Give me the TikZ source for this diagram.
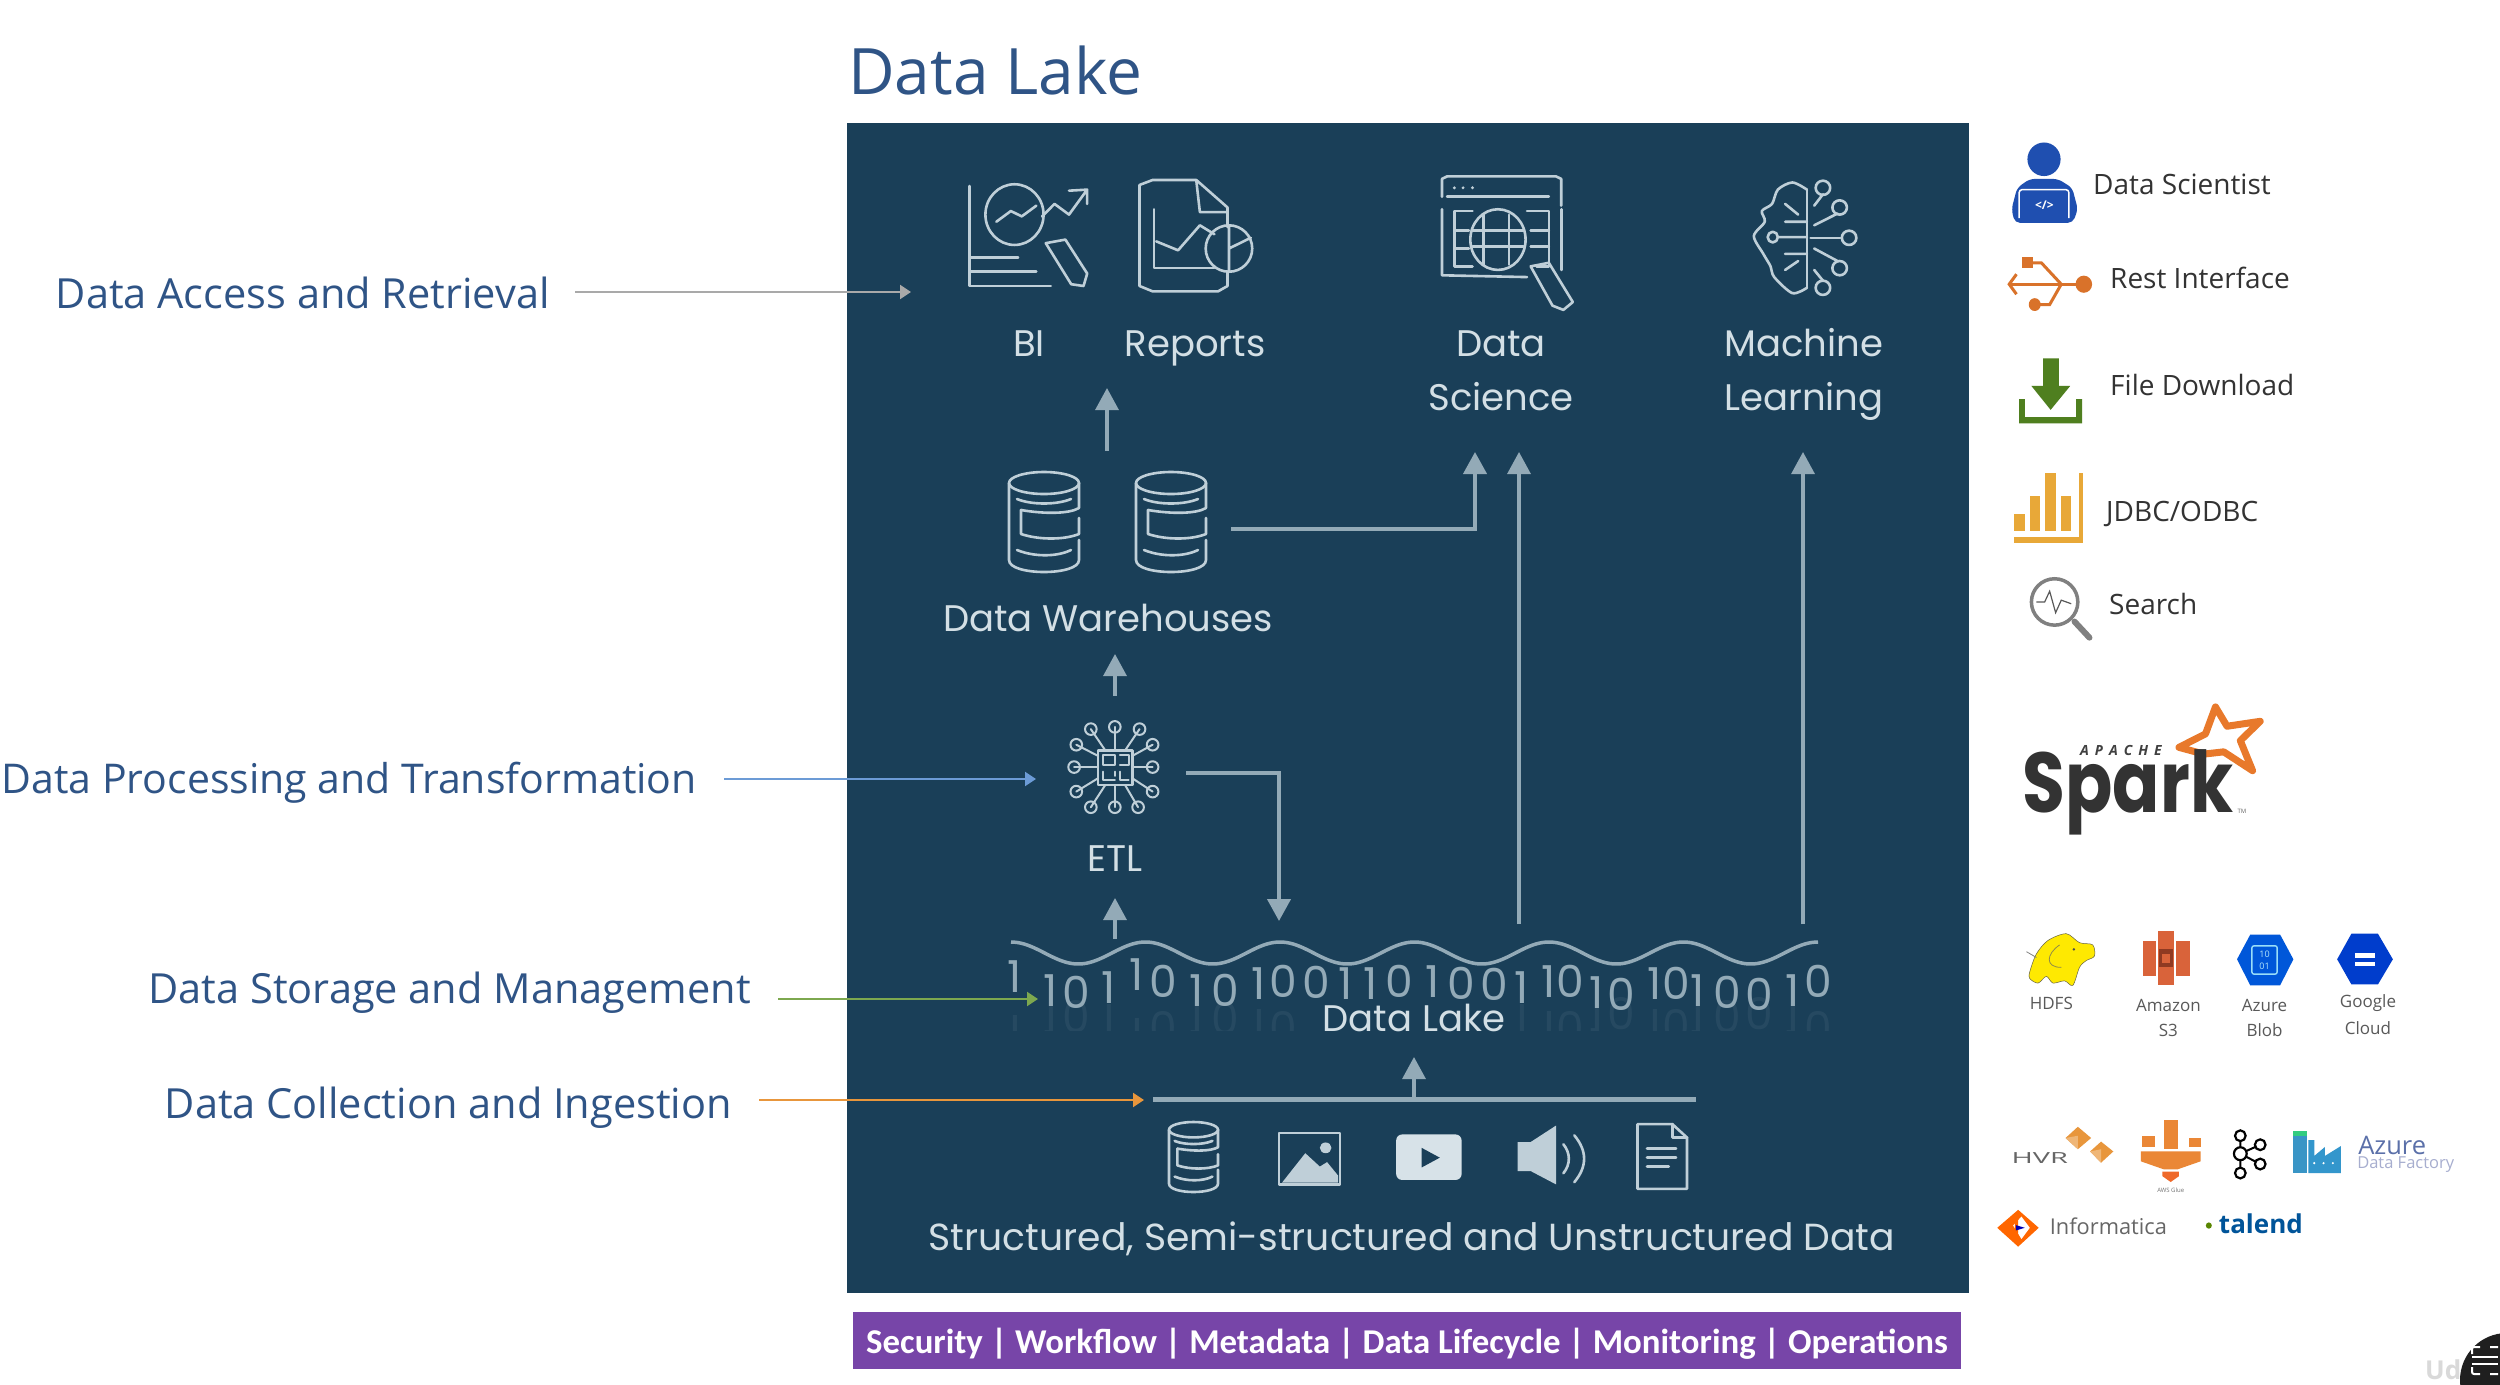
\documentclass[tikz,border=0pt]{standalone}
\usepackage{fontspec}
\usetikzlibrary{arrows.meta}
\setmainfont{Open Sans}
\newfontfamily\dmf{Poppins}
\newfontfamily\carf{Carlito}
\newcommand\fsz[1]{\fontsize{#1}{#1}\selectfont}
\definecolor{panel}{HTML}{1A3F58}
\definecolor{pale}{HTML}{D3DFE5}
\definecolor{iconc}{HTML}{BFCFD8}
\definecolor{arrowc}{HTML}{93AAB7}
\definecolor{titleblue}{HTML}{2F5486}
\definecolor{purplebar}{HTML}{7745A8}
\definecolor{orangel}{HTML}{E8963C}
\definecolor{greenl}{HTML}{7DA84F}
\definecolor{bluel}{HTML}{6C9BD6}
\definecolor{grayl}{HTML}{A9A9A9}
\definecolor{usb}{HTML}{D9722A}
\definecolor{dl}{HTML}{4F7F1F}
\definecolor{jd}{HTML}{E8A838}
\definecolor{pers}{HTML}{1F4FB0}
\definecolor{sparko}{HTML}{E8792B}
\definecolor{sthreec}{HTML}{D9633A}
\definecolor{sthreed}{HTML}{8F3A22}
\tikzset{
  zoomA/.style={x=.727pt,y=-.357pt,xshift=840pt,yshift=-120pt},
  zoomB/.style={x=.727pt,y=-.4464pt,xshift=840pt,yshift=-680pt},
  zoomC/.style={x=.3316pt,y=-.357pt,xshift=1980pt,yshift=-120pt},
  zoomD/.style={x=.3316pt,y=-.449pt,xshift=1980pt,yshift=-680pt},
  iconline/.style={draw=iconc,line width=2.6pt,line join=round,line cap=round},
  paneltext/.style={inner sep=0pt,text=pale,font=\dmf\fsz{37},anchor=base},
  lefttext/.style={inner sep=0pt,text=titleblue,font=\fsz{41.5},anchor=east},
  sidetext/.style={inner sep=0pt,text=black!80,font=\fsz{28},anchor=west},
  smalltext/.style={inner sep=0pt,text=black!65,font=\fsz{17}},
  panelarrow/.style={draw=arrowc,line width=3.2pt,-{Triangle[length=22pt,width=23pt,fill=arrowc]}},
  leftarrow/.style={line width=2.2pt,-{Triangle[length=11pt,width=14pt]}},
  digit/.style={inner sep=0pt,text=arrowc,font=\dmf\fsz{44}},
}
\newcommand\dbicon[3]{% x,y = top-left, #3 = unit scale
\begin{scope}[shift={(#1,#2)},x=#3pt,y=-1.0*#3pt]
\draw[iconline] (35,11) ellipse [x radius=35,y radius=11];
\draw[iconline] (0,11)--(0,88) .. controls (0,104) and (70,104) .. (70,88)--(70,68);
\draw[iconline] (70,11)--(70,36) .. controls (60,42) and (35,42) .. (12,38);
\draw[iconline] (8,27) .. controls (22,33) and (48,33) .. (62,27);
\draw[iconline] (12,38)--(12,62) .. controls (30,68) and (55,68) .. (70,62)--(70,46);
\draw[iconline] (8,78) .. controls (25,85) and (48,85) .. (62,78);
\end{scope}}
\begin{document}
\begin{tikzpicture}[x=1pt,y=-1pt]
\useasboundingbox (0,0) rectangle (2500,1384);
\fill[white] (0,0) rectangle (2500,1384);
% title and panel
\node[inner sep=0pt,anchor=west,text=titleblue,font=\fsz{64}] (title) at (848,70) {Data Lake};
\fill[panel] (847,123) rectangle (1969,1293);
\fill[purplebar] (853,1312) rectangle (1961,1369);
\node[inner sep=0pt,text=white,font=\carf\bfseries\fsz{34.8}] (bar) at (1407,1344) {Security | Workflow | Metadata | Data Lifecycle | Monitoring | Operations};
% left labels
\node[lefttext] (access) at (550,293) {Data Access and Retrieval};
\node[lefttext,font=\fsz{41}] (proc) at (697,783) {Data Processing and Transformation};
\node[lefttext] (store) at (751,993) {Data Storage and Management};
\node[lefttext] (collect) at (732,1108) {Data Collection and Ingestion};
\coordinate (accessTip) at (911,292);
\coordinate (procTip) at (1036,779);
\coordinate (storeTip) at (1038,999);
\coordinate (collectTip) at (1144,1100);
\draw[leftarrow,grayl] ([xshift=25pt,yshift=1pt]access.east) -- (accessTip);
\draw[leftarrow,bluel] ([xshift=27pt,yshift=4pt]proc.east) -- (procTip);
\draw[leftarrow,greenl] ([xshift=27pt,yshift=-6pt]store.east) -- (storeTip);
\draw[leftarrow,orangel] ([xshift=27pt,yshift=8pt]collect.east) -- (collectTip);
% panel labels
\node[paneltext] (bi) at (1029,356) {BI};
\node[paneltext] (reports) at (1195,356) {Reports};
\node[paneltext] (ds1) at (1501,356) {Data};
\node[paneltext] (ds2) at (1501,410) {Science};
\node[paneltext] (ml1) at (1804,356) {Machine};
\node[paneltext] (ml2) at (1804,410) {Learning};
\node[paneltext] (dw) at (1108,631) {Data Warehouses};
\node[paneltext] (etl) at (1115,871) {ETL};
\node[paneltext,font=\dmf\fsz{37.7}] (srcs) at (1412,1250) {Structured, Semi-structured and Unstructured Data};
% connectors
\coordinate (dwTop) at (1107,451); \coordinate (repBase) at (1107,388);
\coordinate (dwEast) at (1231,529); \coordinate (dsA) at (1475,452);
\coordinate (lakeA) at (1519,924); \coordinate (dsB) at (1519,452);
\coordinate (lakeB) at (1803,924); \coordinate (mlB) at (1803,452);
\coordinate (etlTop) at (1115,696); \coordinate (dwBase) at (1115,654);
\coordinate (etlEast) at (1186,773); \coordinate (lakeC) at (1279,921);
\coordinate (lakeUp) at (1115,939); \coordinate (etlBase) at (1115,898);
\coordinate (srcL) at (1153,1099); \coordinate (srcR) at (1696,1099);
\coordinate (srcM) at (1414,1099); \coordinate (lakeBase) at (1414,1057);
\draw[panelarrow] (dwTop) -- (repBase);
\draw[panelarrow,line width=4pt] (dwEast) -| (dsA);
\draw[panelarrow] (lakeA) -- (dsB);
\draw[panelarrow] (lakeB) -- (mlB);
\draw[panelarrow] (etlTop) -- (dwBase);
\draw[panelarrow,line width=4pt] (etlEast) -| (lakeC);
\draw[panelarrow] (lakeUp) -- (etlBase);
\draw[draw=arrowc,line width=5pt] (srcL) -- (srcR);
\draw[panelarrow] (srcM) -- (lakeBase);
% wave
\draw[draw=arrowc,line width=3.5pt] plot[domain=1011:1818,samples=160,smooth] (\x,{953-11*cos(2.6766*(\x-1011))});
% binary digits
\begin{scope}
\clip (847,985) rectangle (1969,1030);
\foreach \d/\zx/\zy in {1/240/665,1/290/695,0/325/700,1/370/690,1/408/660,0/445/675,1/490/695,0/530/695,1/575/680,0/610/675,1/937/690,1/975/675,0/1005/675,1/1040/700,0/1075/705,1/1120/680,0/1150/680,1/1180/695,0/1220/700,0/1265/705,1/1310/695,0/1345/675}{
  \ifnum\zx<620
    \node[digit,opacity=.10,yscale=-1] at ({840+\zx*.727},{1014+(705-\zy)*.4464}) {\d};
  \else
    \node[digit,opacity=.10,yscale=-1] at ({840+\zx*.727},{1014+(705-\zy)*.4464}) {\d};
  \fi
}
\end{scope}
\foreach \d/\zx/\zy in {1/240/665,1/290/695,0/325/700,1/370/690,1/408/660,0/445/675,1/490/695,0/530/695,1/575/680,0/610/675,0/655/678,1/695/680,1/730/680,0/770/675,1/815/675,0/855/680,0/900/682,1/937/690,1/975/675,0/1005/675,1/1040/700,0/1075/705,1/1120/680,0/1150/680,1/1180/695,0/1220/700,0/1265/705,1/1310/695,0/1345/675}{
  \node[digit] at ({840+\zx*.727},{680+\zy*.4464}) {\d};
}
\node[paneltext] (dlake) at (1414,1031) {Data Lake};
% BI icon
\begin{scope}[zoomA]
\draw[iconline] (178,185)--(178,465)--(290,465);
\draw[iconline] (178,385)--(245,385) (178,425)--(270,425);
\draw[iconline] (240,265) ellipse [x radius=40,y radius=85];
\draw[iconline] (215,285)--(235,255)--(250,270)--(270,240);
\draw[iconline] (278,270)--(295,235)--(315,265)--(340,195) (315,198)--(340,195)--(340,235);
\draw[iconline] (283,345)--(310,335)--(340,430)--(335,465)--(318,460)--cycle;
% Reports icon
\draw[iconline] (490,168)--(430,168)--(412,182)--(412,465)--(430,480)--(520,480)--(533,465)--(533,425);
\draw[iconline] (490,168)--(533,245)--(533,300) (490,168)--(495,258)--(533,258);
\draw[iconline] (432,250)--(432,415)--(515,415);
\draw[iconline] (435,340)--(465,365)--(495,295)--(515,320);
\draw[iconline] (535,360) ellipse [x radius=32,y radius=65];
\draw[iconline] (535,295)--(535,425) (535,360)--(565,330);
% Data science icon
\draw[iconline] (828,215)--(828,165)--(835,158)--(985,158)--(992,165)--(992,240);
\draw[iconline] (835,215)--(975,215);
\foreach \dx in {845,857,870} \fill[iconc] (\dx,190) circle (1.6pt);
\draw[iconline] (828,250)--(828,435)--(945,440);
\draw[iconline] (992,250)--(992,420);
\draw[iconline] (905,335) ellipse [x radius=38,y radius=85];
\draw[iconline] (885,265)--(885,405) (920,265)--(920,405) (870,310)--(940,310) (870,355)--(940,355);
\draw[iconline] (870,255)--(845,255)--(845,410)--(870,410) (845,310)--(865,310) (845,360)--(865,360);
\draw[iconline] (945,255)--(975,255)--(975,410)--(958,410) (950,310)--(975,310) (950,355)--(975,355);
\draw[iconline] (950,410)--(975,400)--(1008,510)--(995,532)--(980,520)--cycle;
% Brain icon
\draw[iconline] plot[smooth] coordinates {(1330,195)(1310,175)(1290,195)(1282,235)(1268,255)(1272,285)(1257,325)(1270,375)(1280,410)(1285,440)(1310,485)(1330,470)};
\draw[iconline] (1330,195)--(1330,470);
\draw[iconline] (1283,328) ellipse [x radius=7,y radius=15];
\draw[iconline] (1292,328)--(1330,328) (1300,285)--(1330,285) (1300,375)--(1330,375) (1300,235)--(1318,265) (1300,420)--(1318,395);
\foreach \cx/\cy/\lx/\ly/\ex/\ey in {1352/190/1352/208/1340/240,1375/245/1372/262/1340/295,1388/330/1376/330/1335/330,1375/415/1372/395/1340/360,1352/470/1352/450/1340/420}{
  \draw[iconline] (\cx,\cy) ellipse [x radius=10,y radius=20];
  \draw[iconline] (\lx,\ly)--(\ex,\ey);
}
\end{scope}
% warehouses and source database
\dbicon{1009}{472}{1.0}
\dbicon{1136}{472}{1.0}
\dbicon{1169}{1122}{0.70}
% ETL icon
\begin{scope}[zoomB]
\draw[iconline] (355,158) rectangle (402,235);
\draw[iconline,line width=2pt] (362,168)--(362,190)--(378,190)--(378,168)--cycle (385,168)--(397,168)--(397,190)--(385,190) (362,205)--(362,225)--(378,225) (385,205)--(385,225)--(397,225) (378,205)--(378,215);
\foreach \cx/\cy/\tx/\ty in {345/110/365/158,378/105/378/158,412/110/392/158,325/145/355/170,322/195/355/195,325/250/355/220,430/145/402/170,430/195/402/195,430/250/402/220,345/285/365/235,378/285/378/235,410/285/392/235}{
  \draw[iconline,line width=2pt] (\cx,\cy) ellipse [x radius=8,y radius=13];
  \draw[iconline,line width=2pt] (\cx,\cy)--(\tx,\ty);
}
% source icons
\draw[iconline] (604,1015) rectangle (688,1130);
\fill[iconc] (608,1126)--(640,1060)--(660,1090)--(670,1080)--(685,1110)--(685,1126)--cycle;
\fill[iconc] (668,1048) ellipse [x radius=8,y radius=12];
\fill[pale!90!white,rounded corners=6pt] (765,1018) rectangle (855,1120);
\fill[panel] (800,1048)--(800,1092)--(825,1070)--cycle;
\fill[iconc] (932,1035)--(950,1035)--(985,998)--(985,1130)--(950,1100)--(932,1100)--cycle;
\draw[iconline] (995,1040) .. controls (1005,1060) and (1005,1085) .. (995,1105);
\draw[iconline] (1010,1020) .. controls (1028,1055) and (1028,1090) .. (1010,1125);
\draw[iconline] (1097,995)--(1145,995)--(1165,1025)--(1165,1140)--(1097,1140)--cycle;
\draw[iconline] (1145,995)--(1145,1025)--(1165,1025);
\draw[iconline] (1110,1050)--(1150,1050) (1110,1070)--(1150,1070) (1110,1090)--(1140,1090);
\end{scope}
% side legend
\node[sidetext] (scientist) at (2093,184) {Data Scientist};
\node[sidetext] (rest) at (2110,278) {Rest Interface};
\node[sidetext] (fdl) at (2110,385) {File Download};
\node[sidetext] (jdbc) at (2106,514) {JDBC/ODBC};
\node[sidetext] (search) at (2109,604) {Search};
\begin{scope}[zoomC]
\fill[pers] (193,110) ellipse [x radius=50,y radius=47];
\fill[pers,rounded corners=5pt] (95,250)--(112,190)--(150,165)--(235,165)--(278,190)--(295,250)--(280,288)--(105,288)--cycle;
\draw[white,line width=1.5pt,rounded corners=3pt] (118,275)--(118,195)--(268,195)--(268,275);
\node[inner sep=0pt,text=white,font=\bfseries\fsz{12}] (code) at (194,240) {</>};
\draw[usb,line width=3pt] (90,460)--(310,460);
\draw[usb,line width=3pt] (110,432)--(88,460)--(110,488);
\fill[usb] (313,460) ellipse [x radius=25,y radius=24];
\draw[usb,line width=3pt] (245,460)--(185,400)--(150,400);
\fill[usb] (128,385) rectangle (160,415);
\draw[usb,line width=3pt] (245,460)--(210,517)--(165,517);
\fill[usb] (165,517) ellipse [x radius=18,y radius=18];
\fill[dl] (190,668)--(238,668)--(238,745)--(272,745)--(213,812)--(155,745)--(190,745)--cycle;
\fill[dl] (118,782)--(135,782)--(135,832)--(290,832)--(290,782)--(308,782)--(308,850)--(118,850)--cycle;
\fill[jd] (103,1103) rectangle (135,1150);
\fill[jd] (150,1052) rectangle (182,1150);
\fill[jd] (195,990) rectangle (228,1150);
\fill[jd] (243,1052) rectangle (275,1150);
\fill[jd] (298,990) rectangle (312,1185);
\fill[jd] (103,1168) rectangle (312,1185);
\draw[black!50,line width=3.5pt] (225,1350) ellipse [x radius=70,y radius=65];
\draw[black!65,line width=1.2pt] (170,1350)--(195,1350)--(210,1320)--(228,1380)--(245,1345)--(275,1355);
\draw[black!50,line width=6pt,line cap=round] (285,1405)--(330,1450);
\end{scope}
\begin{scope}[zoomD]
\draw[sparko,line width=7pt,line join=round] (710,60)--(745,103)--(845,92)--(785,135)--(822,202)--(735,160)--(675,165)--(600,150)--(680,120)--cycle;
\node[inner sep=0pt,anchor=base west,text=black!80,font=\dmf\bfseries\fsz{85}] (spark) at (128,295) {\scalebox{.82}[1]{Spark}};
\node[inner sep=0pt,text=black!75,font=\bfseries\itshape\fsz{14}] (apache) at (425,158) {A\hspace{6pt}P\hspace{6pt}A\hspace{6pt}C\hspace{6pt}H\hspace{6pt}E};
\node[inner sep=0pt,text=black!60,font=\fsz{6}] (tm) at (790,292) {TM};
% elephant
\fill[yellow!92!orange,draw=black!70!yellow,line width=.5pt] plot[smooth cycle] coordinates {(150,650)(170,610)(205,580)(260,565)(300,585)(340,590)(345,615)(320,625)(300,640)(280,680)(255,670)(220,675)(200,660)(175,675)(150,665)};
\draw[black!50!yellow,line width=.8pt] (240,590) .. controls (200,610) and (195,640) .. (245,640);
\fill[black!70] (283,600) circle (1.3pt);
\draw[black!50,line width=.8pt] (140,605)--(170,618);
\node[smalltext] (hdfs) at (215,720) {HDFS};
% S3
\fill[sthreec] (490,582) rectangle (530,660);
\fill[sthreec] (592,582) rectangle (632,660);
\fill[sthreec] (538,558) rectangle (585,680);
\fill[sthreed] (540,600) rectangle (583,640);
\fill[sthreec] (550,610) rectangle (573,630);
\node[smalltext] (amazon) at (568,724) {Amazon};
\node[smalltext] (sthree) at (568,780) {S3};
% Azure blob
\fill[blue!60!cyan!85!black] (775,622)--(815,567)--(905,567)--(945,622)--(905,680)--(815,680)--cycle;
\draw[cyan!40!white,line width=1.4pt,rounded corners=2pt] (820,592) rectangle (896,655);
\node[inner sep=0pt,text=cyan!30!white,font=\fsz{9}] (b1) at (858,610) {10};
\node[inner sep=0pt,text=cyan!30!white,font=\fsz{9}] (b2) at (858,638) {01};
\node[smalltext] (azure) at (858,724) {Azure};
\node[smalltext] (blob) at (858,780) {Blob};
% Google
\fill[blue!70!cyan!80!black] (1077,622)--(1120,565)--(1200,565)--(1245,622)--(1200,678)--(1120,678)--cycle;
\fill[white] (1130,608) rectangle (1190,620);
\fill[white] (1130,627) rectangle (1190,638);
\node[smalltext] (google) at (1170,720) {Google};
\node[smalltext] (cloud) at (1170,775) {Cloud};
% HVR
\node[inner sep=0pt,text=black!60] (hvr) at (180,1065) {\scalebox{1.7}[.9]{\fsz{17}HVR}};
\fill[orangel] (258,1020)--(295,995)--(335,1020)--(295,1045)--cycle;
\fill[orangel!70!white] (258,1020)--(295,1015)--(295,1045)--cycle;
\fill[orangel] (332,1050)--(365,1028)--(402,1050)--(365,1075)--cycle;
\fill[orangel!70!white] (332,1050)--(365,1045)--(365,1075)--cycle;
% AWS Glue
\fill[orangel!90!red] (555,980) rectangle (597,1045);
\fill[orangel!90!red] (487,1015) rectangle (527,1040);
\fill[orangel!90!red] (630,1020) rectangle (667,1040);
\fill[orangel!90!red] (485,1050)--(665,1050)--(665,1072)--(595,1090)--(555,1090)--(485,1072)--cycle;
\fill[orangel!70!red] (550,1095)--(600,1095)--(600,1105)--(575,1118)--(550,1105)--cycle;
\node[inner sep=0pt,text=black!55,font=\fsz{6}] (glue) at (575,1137) {AWS Glue};
% Kafka
\draw[black,line width=2pt] (785,1015)--(785,1098) (785,1055)--(845,1035) (785,1055)--(845,1078);
\foreach \kx/\ky/\kr in {785/1015/1,785/1055/1.2,785/1098/1,845/1035/1,845/1078/1}
  \filldraw[draw=black,fill=white,line width=2.2pt] (\kx,\ky) ellipse [x radius=16*\kr,y radius=12*\kr];
% ADF
\fill[blue!35!cyan!55!gray] (945,1012) rectangle (987,1098);
\fill[green!50!cyan!60!gray] (945,1005) rectangle (987,1015);
\fill[blue!35!cyan!60!gray] (990,1098)--(990,1025)--(1008,1025)--(1008,1060)--(1040,1040)--(1040,1060)--(1088,1038)--(1088,1098)--cycle;
\foreach \ax in {1008,1036,1064} \fill[white] (\ax,1076) circle (1.2pt);
\node[inner sep=0pt,anchor=west,text=cyan!35!blue!60!gray,font=\fsz{25.5}] (adf1) at (1140,1037) {Azure};
\node[inner sep=0pt,anchor=west,text=cyan!35!blue!35!white!75!gray,font=\fsz{16.5}] (adf2) at (1137,1079) {Data Factory};
% Informatica
\fill[orange!80!red] (52,1220)--(115,1180)--(177,1220)--(115,1262)--cycle;
\fill[white] (100,1215)--(125,1195)--(150,1220)--(125,1245)--cycle;
\fill[orange!80!red] (105,1205)--(115,1198)--(115,1240)--(105,1235)--cycle;
\fill[blue!70!black] (108,1214)--(135,1220)--(108,1226)--cycle;
\node[inner sep=0pt,anchor=west,text=black!60,font=\fsz{21.8}] (info) at (210,1217) {Informatica};
\fill[green!50!orange!70!black] (690,1215) ellipse [x radius=9,y radius=7];
\node[inner sep=0pt,anchor=west,text=blue!45!cyan!60!black,font=\bfseries\fsz{26}] (talend) at (720,1212) {talend};
\end{scope}
% watermark and button
\node[inner sep=0pt,anchor=west,text=black!15,font=\bfseries\fsz{26}] (udemy) at (2425,1370) {Ude};
\fill[black!88] (2507,1380) circle (47pt);
\draw[white,line width=2pt,rounded corners=2pt] (2472,1354)--(2472,1347)--(2480,1347) (2490,1347)--(2498,1347) (2472,1367)--(2472,1374)--(2480,1374) (2490,1374)--(2498,1374);
\draw[white,line width=2pt] (2472,1357)--(2498,1357) (2472,1364)--(2498,1364);
\end{tikzpicture}
\end{document}
